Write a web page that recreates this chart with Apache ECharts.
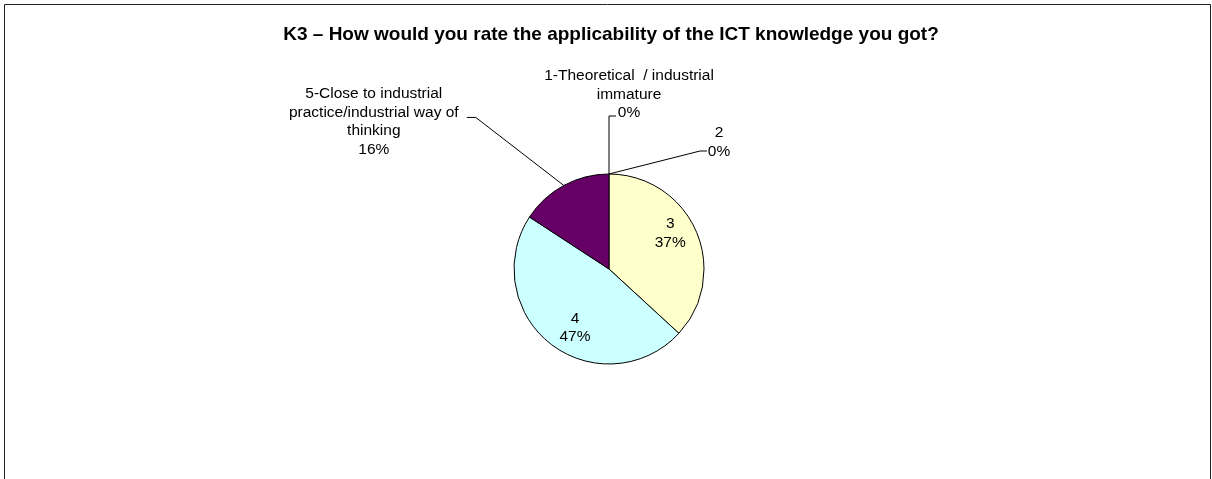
<!DOCTYPE html>
<html>
<head>
<meta charset="utf-8">
<title>K3 applicability</title>
<script src="https://cdn.jsdelivr.net/npm/echarts@6/dist/echarts.min.js"></script>
<style>
  html, body { margin: 0; padding: 0; background: #fff; }
  #chart { width: 1212px; height: 479px; }
</style>
</head>
<body>
<div id="chart"></div>
<script>
// answers to K3 (counts, shown as % of 19)
const categories = [
  '1-Theoretical  / industrial\nimmature',
  '2',
  '3',
  '4',
  '5-Close to industrial\npractice/industrial way of\nthinking'
]
const counts = [0, 0, 7, 9, 3]
const sliceColors = ['#9999FF', '#993366', '#FFFFCC', '#CCFFFF', '#660066']

const titleText = 'K3 \u2013 How would you rate the applicability of the ICT knowledge you got?'
const font = '"Liberation Sans", Arial, sans-serif'

// label placement relative to the point where the leader line leaves the pie
const outerLabels = {
  0: { corner: [0, -58], end: [7, -58], text: [20, -79.5] },
  1: { corner: [91, -23], end: [98, -23], text: [110, -32] },
  4: { corner: [-88, -68], end: [-97, -68], text: [-190, -63.5] }
}
// nudges for the labels drawn inside the slices
const innerNudge = { 2: [15, -15.5], 3: [-3, 19] }

const chart = echarts.init(document.getElementById('chart'))

chart.setOption({
  backgroundColor: '#fff',
  animation: false,
  title: {
    text: titleText,
    left: 606,
    top: 20,
    textAlign: 'center',
    textStyle: { fontFamily: font, fontSize: 19, fontWeight: 'bold', color: '#000' }
  },
  graphic: [{
    type: 'rect',
    shape: { x: 4.5, y: 4.5, width: 1206, height: 520 },
    style: { fill: 'none', stroke: '#222', lineWidth: 1 },
    silent: true
  }],
  series: [{
    type: 'pie',
    center: [609, 269],
    radius: 95,
    startAngle: 90,
    clockwise: true,
    percentPrecision: 0,
    avoidLabelOverlap: false,
    stillShowZeroSum: true,
    itemStyle: { borderColor: '#000', borderWidth: 1 },
    label: {
      show: true,
      position: 'outside',
      formatter: '{b}\n{d}%',
      fontFamily: font,
      fontSize: 15.5,
      lineHeight: 18.5,
      color: '#000'
    },
    labelLine: {
      show: true,
      length: 20,
      length2: 10,
      lineStyle: { color: '#000', width: 1 }
    },
    labelLayout: function (params) {
      const o = outerLabels[params.dataIndex]
      if (o && params.labelLinePoints) {
        const p = params.labelLinePoints[0]
        return {
          x: p[0] + o.text[0],
          y: p[1] + o.text[1],
          align: 'center',
          verticalAlign: 'middle',
          labelLinePoints: [
            [p[0], p[1]],
            [p[0] + o.corner[0], p[1] + o.corner[1]],
            [p[0] + o.end[0], p[1] + o.end[1]]
          ]
        }
      }
      const n = innerNudge[params.dataIndex]
      if (n) return { dx: n[0], dy: n[1] }
      return {}
    },
    data: categories.map(function (name, i) {
      const item = {
        name: name,
        value: counts[i],
        itemStyle: { color: sliceColors[i] }
      }
      if (innerNudge[i]) {
        item.label = { position: 'inside' }
        item.labelLine = { show: false }
      }
      return item
    })
  }]
})
</script>
</body>
</html>
